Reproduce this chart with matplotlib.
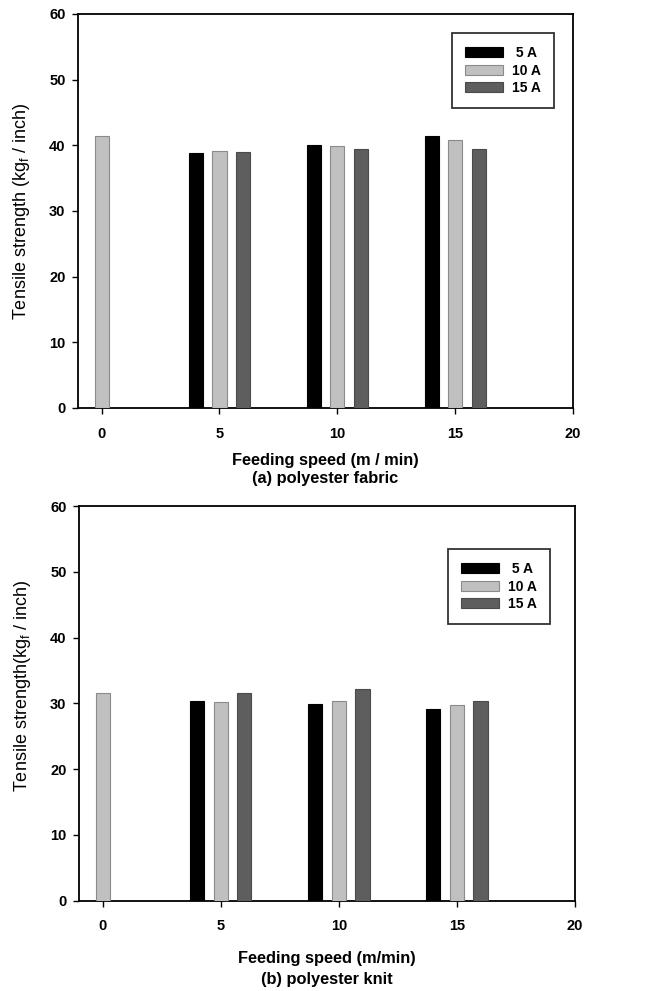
import matplotlib
matplotlib.use("Agg")
import matplotlib.pyplot as plt
import numpy as np

plt.rcParams['font.family'] = ['Liberation Sans', 'DejaVu Sans']

speeds = [5, 10, 15]
currents = ["5 A", "10 A", "15 A"]
offsets = [-1, 0, 1]

# (a) polyester fabric
base_a = 41.4
fabric_5A = [38.8, 40.0, 41.4]
fabric_10A = [39.2, 39.9, 40.8]
fabric_15A = [39.0, 39.4, 39.5]

# (b) polyester knit
base_b = 31.6
knit_5A = [30.3, 29.9, 29.2]
knit_10A = [30.2, 30.4, 29.8]
knit_15A = [31.6, 32.2, 30.4]

colors = ["#000000", "#c0c0c0", "#5e5e5e"]
edges = ["#000000", "#8a8a8a", "#4a4a4a"]

fig = plt.figure(figsize=(6.54, 9.91), dpi=100)
ax1 = fig.add_axes([0.1193, 0.5883, 0.7569, 0.3976])
ax2 = fig.add_axes([0.1208, 0.0913, 0.7584, 0.3981])

def draw(ax, base, series, xlabel, ylabel, leg_anchor, labelpad, lsp, ylab_y):
    ax.bar([0], [base], width=0.6, color=colors[1], edgecolor=edges[1], linewidth=0.8, zorder=3)
    for vals, c, e, off, lab in zip(series, colors, edges, offsets, currents):
        shown = (" " + lab) if len(lab) < 4 else lab
        ax.bar(np.array(speeds) + off, vals, width=0.6, color=c, edgecolor=e,
               linewidth=0.8, label=shown, zorder=3)
    ax.set_xlim(-1.0, 20)
    ax.set_ylim(0, 60)
    ax.set_xticks([0, 5, 10, 15, 20])
    ax.set_yticks([0, 10, 20, 30, 40, 50, 60])
    ax.tick_params(direction='out', length=4, width=1, labelsize=10.5)
    ax.tick_params(axis='x', pad=9.5)
    ax.tick_params(axis='y', pad=5)
    for lbl in ax.get_xticklabels() + ax.get_yticklabels():
        lbl.set_fontweight('bold')
    for s in ax.spines.values():
        s.set_linewidth(1.3)
    ax.set_xlabel(xlabel, fontsize=11.75, fontweight='bold', labelpad=labelpad, linespacing=lsp)
    ax.set_ylabel(ylabel, fontsize=13)
    ax.yaxis.set_label_coords(-0.093, ylab_y)
    leg = ax.legend(loc='upper left', bbox_to_anchor=leg_anchor,
                    prop={'weight': 'bold', 'size': 10},
                    handlelength=2.7, handleheight=0.75, handletextpad=0.65,
                    borderpad=0.95, labelspacing=0.25, borderaxespad=0,
                    frameon=True, fancybox=False, edgecolor='black')
    leg.get_frame().set_linewidth(1.3)

draw(ax1, base_a, [fabric_5A, fabric_10A, fabric_15A],
     "Feeding speed (m / min)\n(a) polyester fabric",
     r"Tensile strength (kg$_\mathregular{f}$ / inch)", (0.756, 0.952), 9, 1.27, 0.5)
draw(ax2, base_b, [knit_5A, knit_10A, knit_15A],
     "Feeding speed (m/min)\n(b) polyester knit",
     r"Tensile strength(kg$_\mathregular{f}$ / inch)", (0.744, 0.891), 13, 1.45, 0.545)

fig.savefig("out.png", dpi=100)
